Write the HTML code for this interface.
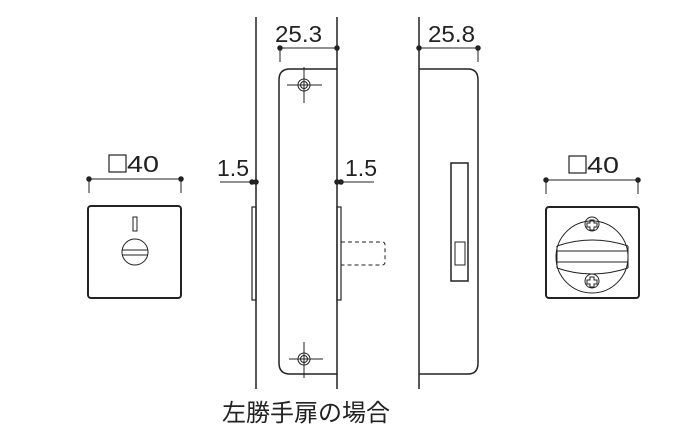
<!DOCTYPE html>
<html><head><meta charset="utf-8"><style>
html,body{margin:0;padding:0;background:#fff;width:700px;height:438px;overflow:hidden}
svg{display:block}
text{font-family:"Liberation Sans",sans-serif;fill:#222}
</style></head><body>
<svg width="700" height="438" viewBox="0 0 700 438" fill="none" stroke="#222" stroke-width="1.5">
<!-- left square -->
<rect x="109" y="155" width="17" height="17" stroke-width="1.2"/>
<text x="127" y="172" font-size="23" stroke="none" textLength="32" lengthAdjust="spacingAndGlyphs">40</text>
<line x1="89" y1="179" x2="181" y2="179" stroke-width="1"/>
<circle cx="89" cy="179" r="2" fill="#222"/><circle cx="181" cy="179" r="2" fill="#222"/>
<line x1="89" y1="179" x2="89" y2="193" stroke-width="1"/><line x1="181" y1="179" x2="181" y2="193" stroke-width="1"/>
<rect x="88" y="206" width="93" height="92" rx="3" stroke-width="2"/>
<rect x="133" y="217" width="4" height="14" stroke-width="1"/>
<circle cx="135" cy="252" r="13" stroke-width="1"/>
<line x1="122" y1="250" x2="148" y2="250" stroke-width="1"/><line x1="122" y1="255" x2="148" y2="255" stroke-width="1"/>
<!-- middle -->
<line x1="256" y1="17" x2="256" y2="389"/>
<line x1="337" y1="17" x2="337" y2="389"/>
<path d="M337 69 H290 Q279 69 279 80 V363 Q279 374 290 374 H337"/>
<text x="275" y="42" font-size="23" stroke="none" textLength="47" lengthAdjust="spacingAndGlyphs">25.3</text>
<line x1="280" y1="48" x2="337" y2="48" stroke-width="1"/>
<circle cx="280" cy="48" r="2" fill="#222"/><circle cx="337" cy="48" r="2" fill="#222"/>
<line x1="280" y1="48" x2="280" y2="62" stroke-width="1"/>
<g stroke-width="1">
<circle cx="304" cy="85" r="6"/><circle cx="304" cy="85" r="3.5"/>
<line x1="287" y1="85" x2="322" y2="85"/><line x1="304" y1="67" x2="304" y2="103"/>
<circle cx="304" cy="359" r="6"/><circle cx="304" cy="359" r="3.5"/>
<line x1="289" y1="359" x2="323" y2="359"/><line x1="304" y1="342" x2="304" y2="378"/>
</g>
<text x="217" y="176" font-size="23" stroke="none" textLength="32" lengthAdjust="spacingAndGlyphs">1.5</text>
<line x1="220" y1="182" x2="258" y2="182" stroke-width="1"/>
<circle cx="252" cy="182" r="2" fill="#222"/><circle cx="256" cy="182" r="2" fill="#222"/>
<rect x="252" y="207" width="4" height="93" stroke-width="1.2"/>
<text x="345" y="176" font-size="23" stroke="none" textLength="32" lengthAdjust="spacingAndGlyphs">1.5</text>
<line x1="336" y1="182" x2="374" y2="182" stroke-width="1"/>
<circle cx="337" cy="182" r="2" fill="#222"/><circle cx="341" cy="182" r="2" fill="#222"/>
<rect x="337" y="207" width="4" height="93" stroke-width="1.2"/>
<path d="M341 242 H382 Q385 242 385 245 V262 Q385 265 382 265 H341" stroke-width="1" stroke-dasharray="4 3"/>
<!-- side view -->
<line x1="419" y1="17" x2="419" y2="389"/>
<path d="M419 69 H468 Q478 69 478 80 V363 Q478 374 468 374 H419"/>
<text x="428" y="42" font-size="23" stroke="none" textLength="47" lengthAdjust="spacingAndGlyphs">25.8</text>
<line x1="419" y1="48" x2="478" y2="48" stroke-width="1"/>
<circle cx="419" cy="48" r="2" fill="#222"/><circle cx="478" cy="48" r="2" fill="#222"/>
<line x1="478" y1="48" x2="478" y2="62" stroke-width="1"/>
<rect x="451" y="163" width="17" height="118"/>
<rect x="455" y="242" width="10" height="23" stroke-width="1"/>
<!-- right square -->
<rect x="569" y="156" width="17" height="17" stroke-width="1.2"/>
<text x="587" y="173" font-size="23" stroke="none" textLength="32" lengthAdjust="spacingAndGlyphs">40</text>
<line x1="546" y1="180" x2="638" y2="180" stroke-width="1"/>
<circle cx="546" cy="180" r="2" fill="#222"/><circle cx="638" cy="180" r="2" fill="#222"/>
<line x1="546" y1="180" x2="546" y2="194" stroke-width="1"/><line x1="638" y1="180" x2="638" y2="194" stroke-width="1"/>
<rect x="546" y="207" width="93" height="91" rx="3" stroke-width="2"/>
<g stroke-width="1">
<circle cx="592" cy="257" r="36"/>
<path d="M557 246 Q592 234 628 246 M557 268 Q592 280 628 268 M557 246 V268 M628 246 V268"/>
<line x1="557" y1="251" x2="628" y2="251"/><line x1="557" y1="262" x2="628" y2="262"/>
<circle cx="592" cy="224" r="7"/><circle cx="592" cy="281" r="7"/>
<path d="M590 220 h4 v3 h3 v4 h-3 v3 h-4 v-3 h-3 v-4 h3z"/>
<path d="M590 277 h4 v3 h3 v4 h-3 v3 h-4 v-3 h-3 v-4 h3z"/>
</g>
<text x="222" y="421" font-size="24" stroke="none" style='font-family:"Liberation Sans","Noto Sans CJK JP",sans-serif' textLength="168" lengthAdjust="spacingAndGlyphs">左勝手扉の場合</text>
</svg>
</body></html>
